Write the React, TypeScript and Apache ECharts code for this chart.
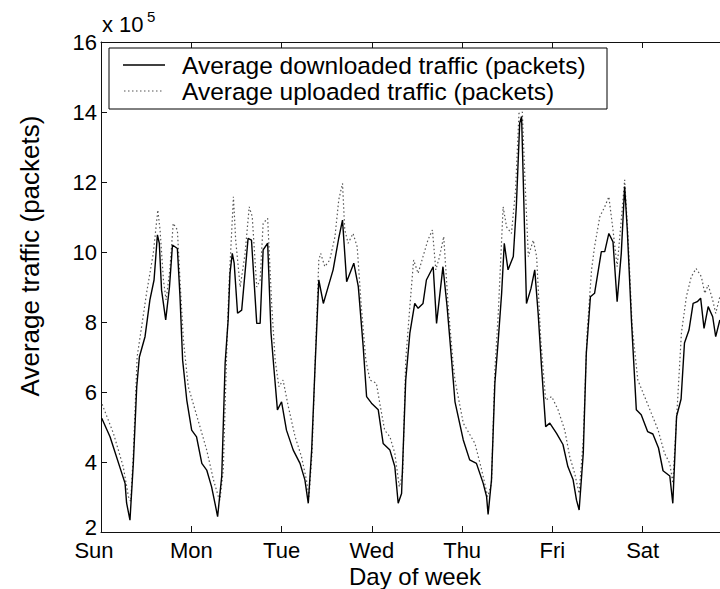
import React, { useEffect, useRef } from "react";
import * as echarts from "echarts";

// Hours since Sunday 00:00 and average traffic in units of 10^5 packets.
const DAY_LABELS = ["Sun", "Mon", "Tue", "Wed", "Thu", "Fri", "Sat"];
const Y_TICKS = [2, 4, 6, 8, 10, 12, 14, 16];

const DOWN_HOURS = [
  0.2, 2.4, 6.4, 6.8, 7.7, 8.6, 9.5, 10.2, 11.7, 13.0, 14.1, 15.0, 15.5, 16.1, 17.2, 18.2, 19.0, 20.3, 21.0, 21.7, 22.8,
  24.1, 25.4, 26.8, 28.1, 29.4, 30.3, 31.0, 32.1, 33.0, 33.8, 34.3, 34.9, 35.4, 36.3, 37.4, 39.1, 40.0, 41.4, 42.3, 43.1, 44.3, 45.2, 46.0, 46.9,
  48.0, 49.3, 51.1, 52.9, 54.2, 55.1, 56.0, 56.9, 57.9, 59.1, 60.4, 61.7, 63.2, 64.2, 65.3, 67.2, 68.4, 69.7, 70.6, 71.9,
  73.7, 75.0, 76.8, 78.1, 79.0, 79.9, 81.0, 82.1, 83.4, 84.3, 85.6, 86.5, 88.3, 89.2, 90.9, 92.0, 93.2, 94.1,
  96.3, 98.0, 99.8, 101.6, 102.5, 102.9, 103.8, 104.7, 105.6, 106.5, 107.2, 108.2, 109.6, 110.4, 111.3, 111.8, 112.2, 113.1, 114.3, 115.3, 116.2, 117.1, 118.2, 119.3,
  121.1, 122.8, 124.1, 125.5, 126.4, 127.1, 128.2, 129.0, 130.1, 131.2, 133.0, 133.9, 135.0, 136.1, 137.2, 138.3, 139.2, 139.9, 141.0, 142.3,
  143.6, 145.3, 146.7, 148.2, 149.4, 151.2, 152.0, 153.0, 154.2, 155.1, 156.3, 157.4, 158.5, 159.4, 160.3, 161.4, 162.6, 163.4, 164.5,
];
const DOWN_VALUES = [
  5.25, 4.72, 3.39, 2.83, 2.34, 3.97, 6.15, 7.0, 7.58, 8.63, 9.2, 10.49, 10.25, 8.91, 8.06, 9.0, 10.2, 10.1, 8.72, 6.91, 5.77,
  4.91, 4.72, 3.96, 3.77, 3.29, 2.82, 2.44, 3.6, 6.83, 8.06, 9.4, 9.96, 9.68, 8.25, 8.34, 10.39, 10.34, 7.96, 7.96, 10.06, 10.25, 7.68, 6.63, 5.49,
  5.72, 4.91, 4.34, 3.96, 3.49, 2.82, 4.34, 6.72, 9.2, 8.53, 9.01, 9.49, 10.4, 10.91, 9.15, 9.68, 9.01, 7.29, 5.87, 5.68,
  5.49, 4.53, 4.34, 3.87, 2.82, 3.1, 6.34, 7.68, 8.53, 8.39, 8.53, 9.2, 9.58, 7.96, 9.58, 8.44, 6.91, 5.72,
  4.63, 4.06, 3.96, 3.39, 3.01, 2.5, 3.49, 6.25, 7.49, 8.82, 10.25, 9.49, 9.87, 11.29, 13.68, 13.87, 12.25, 8.53, 8.96, 9.49, 8.25, 6.72, 5.01, 5.11,
  4.82, 4.5, 3.87, 3.49, 2.91, 2.63, 4.25, 7.1, 8.72, 8.82, 10.01, 10.01, 10.53, 10.29, 8.58, 9.96, 11.87, 10.63, 8.06, 5.49,
  5.35, 4.87, 4.8, 4.4, 3.75, 3.6, 2.82, 5.3, 5.8, 7.4, 7.77, 8.53, 8.58, 8.68, 7.82, 8.44, 8.15, 7.58, 8.06,
];

const UP_HOURS = [
  0.3, 3.3, 5.9, 7.3, 7.9, 8.6, 9.6, 10.8, 12.1, 13.9, 15.1, 15.7, 16.6, 17.3, 18.3, 19.2, 20.3, 21.0, 21.9, 23.2,
  25.0, 26.3, 28.1, 29.9, 31.2, 31.6, 32.5, 33.4, 34.0, 35.2, 35.8, 37.0, 38.3, 39.4, 40.2, 41.4, 42.3, 43.1, 44.3, 45.4, 46.3, 47.3,
  48.4, 49.8, 51.6, 53.3, 54.6, 55.3, 56.1, 57.0, 57.9, 58.4, 59.5, 60.8, 62.2, 63.2, 64.2, 64.8, 65.7, 67.0, 68.1, 69.2, 70.4, 71.5,
  73.2, 74.1, 75.4, 76.8, 78.1, 79.3, 80.2, 81.0, 82.1, 83.1, 84.3, 85.6, 86.9, 88.1, 89.0, 90.0, 91.1, 92.3, 93.6, 94.1,
  96.3, 99.4, 101.2, 102.8, 103.8, 104.7, 105.6, 106.9, 107.8, 109.1, 110.2, 111.1, 112.0, 112.7, 113.6, 114.9, 115.8, 116.9, 118.2, 119.8,
  121.5, 123.3, 124.6, 125.9, 127.1, 128.2, 129.2, 130.4, 131.2, 132.6, 133.9, 135.0, 136.1, 137.2, 138.3, 139.2, 140.1, 141.2, 142.7,
  144.5, 146.3, 148.1, 149.8, 151.2, 151.6, 152.0, 153.4, 154.3, 155.6, 156.9, 158.2, 159.6, 160.5, 161.4, 162.6, 163.4, 164.5,
];
const UP_VALUES = [
  5.65, 4.82, 3.87, 3.01, 2.87, 4.25, 7.0, 7.87, 8.82, 9.96, 11.2, 10.63, 9.2, 8.63, 9.49, 10.82, 10.63, 9.2, 7.49, 6.15,
  5.49, 5.01, 4.34, 3.49, 3.01, 2.91, 3.77, 7.1, 9.0, 11.58, 10.34, 9.0, 9.96, 11.29, 11.01, 9.0, 9.2, 10.82, 10.96, 8.44, 6.91, 6.15,
  6.34, 5.58, 4.72, 4.15, 3.49, 3.01, 4.25, 7.1, 9.77, 9.96, 9.58, 9.77, 10.44, 11.49, 11.96, 10.63, 10.25, 10.53, 10.15, 8.44, 6.91, 6.34,
  6.25, 5.68, 4.91, 4.72, 4.25, 3.29, 3.68, 6.91, 8.44, 9.77, 9.39, 9.87, 10.34, 10.63, 9.49, 9.87, 10.44, 8.44, 6.82, 6.34,
  5.11, 4.53, 3.77, 3.01, 3.39, 6.63, 8.25, 11.29, 10.72, 10.53, 11.77, 13.96, 14.0, 12.06, 9.87, 10.34, 9.87, 7.49, 5.77, 5.87,
  5.49, 4.9, 4.15, 3.68, 3.1, 4.63, 7.68, 9.49, 10.15, 11.01, 11.29, 11.58, 10.63, 9.58, 10.91, 12.06, 10.44, 7.87, 6.34,
  5.87, 5.39, 4.91, 4.25, 3.96, 3.68, 3.39, 6.0, 7.7, 8.72, 9.29, 9.53, 9.29, 8.82, 9.06, 8.63, 8.25, 8.72,
];

const FONT = "'Liberation Sans', Arial, Helvetica, sans-serif";
const AXIS_COLOR = "#111";
const DOWN_STYLE = { color: "#000", width: 1.4, type: "solid" as const };
const UP_STYLE = { color: "#555", width: 1.2, type: [1.5, 2.5] as number[] };

// The plot runs a little past the visible frame on the right, so the chart
// canvas is wider than the clipping frame around it.
const FRAME_W = 720;
const FRAME_H = 589;
const CANVAS_W = 740;

const pairs = (xs: number[], ys: number[]) => xs.map((x, i) => [x, ys[i]]);

export default function App() {
  const ref = useRef<HTMLDivElement>(null);

  useEffect(() => {
    if (!ref.current) return;
    const chart = echarts.init(ref.current, undefined, { renderer: "svg" });

    const xCommon = {
      type: "value" as const,
      min: 0,
      max: 24 * DAY_LABELS.length,
      interval: 24,
      splitLine: { show: false },
      axisLine: { show: true, lineStyle: { color: AXIS_COLOR, width: 1 } },
      axisTick: { show: true, inside: true, length: 6, lineStyle: { color: AXIS_COLOR } },
    };

    chart.setOption({
      animation: false,
      backgroundColor: "#fff",
      grid: { left: 101, top: 42, right: CANVAS_W - 733, bottom: 57, containLabel: false },
      xAxis: [
        {
          ...xCommon,
          position: "bottom",
          axisLabel: {
            show: true,
            margin: 8,
            color: "#000",
            fontFamily: FONT,
            fontSize: 22,
            lineHeight: 20,
            formatter: (v: number) => {
              const label = DAY_LABELS[Math.round(v / 24)] ?? "";
              return v === 0 ? `{first|${label}}` : label;
            },
            rich: { first: { fontFamily: FONT, fontSize: 22, lineHeight: 20, color: "#000", padding: [0, 14, 0, 0] } },
          },
        },
        { ...xCommon, position: "top", axisLabel: { show: false } },
      ],
      yAxis: {
        type: "value",
        min: Y_TICKS[0],
        max: Y_TICKS[Y_TICKS.length - 1],
        interval: 2,
        splitLine: { show: false },
        axisLine: { show: true, lineStyle: { color: AXIS_COLOR, width: 1 } },
        axisTick: { show: true, inside: true, length: 6, lineStyle: { color: AXIS_COLOR } },
        axisLabel: {
          margin: 4,
          color: "#000",
          fontFamily: FONT,
          fontSize: 22,
          lineHeight: 18,
          formatter: (v: number) => (v === Y_TICKS[0] ? `{low|${v}}` : `${v}`),
          rich: { low: { fontFamily: FONT, fontSize: 22, lineHeight: 16, color: "#000", padding: [0, 0, 10, 0] } },
        },
      },
      series: [
        {
          name: "Average downloaded traffic (packets)",
          type: "line",
          xAxisIndex: 0,
          data: pairs(DOWN_HOURS, DOWN_VALUES),
          showSymbol: false,
          lineStyle: DOWN_STYLE,
          z: 3,
        },
        {
          name: "Average uploaded traffic (packets)",
          type: "line",
          xAxisIndex: 0,
          data: pairs(UP_HOURS, UP_VALUES),
          showSymbol: false,
          lineStyle: UP_STYLE,
          z: 2,
        },
      ],
      graphic: [
        // legend box
        {
          type: "group",
          z: 100,
          children: [
            { type: "rect", shape: { x: 109, y: 48, width: 498, height: 61 }, style: { fill: "#fff", stroke: "#000", lineWidth: 1 } },
            { type: "line", shape: { x1: 123, y1: 65, x2: 165, y2: 65 }, style: { stroke: DOWN_STYLE.color, lineWidth: DOWN_STYLE.width } },
            {
              type: "line",
              shape: { x1: 124, y1: 91, x2: 164, y2: 91 },
              style: { stroke: UP_STYLE.color, lineWidth: UP_STYLE.width, lineDash: UP_STYLE.type },
            },
            {
              type: "text",
              x: 182,
              y: 65,
              style: { text: "Average downloaded traffic (packets)", font: `24.5px ${FONT}`, fill: "#000", verticalAlign: "middle" },
            },
            {
              type: "text",
              x: 182,
              y: 91,
              style: { text: "Average uploaded traffic (packets)", font: `24.5px ${FONT}`, fill: "#000", verticalAlign: "middle" },
            },
          ],
        },
        // exponent marker above the value axis
        { type: "text", x: 102, y: 35, style: { text: "x 10", font: `22px ${FONT}`, fill: "#000", verticalAlign: "bottom" } },
        { type: "text", x: 147, y: 24, style: { text: "5", font: `15px ${FONT}`, fill: "#000", verticalAlign: "bottom" } },
        // axis titles
        {
          type: "text",
          x: 30,
          y: 256,
          rotation: Math.PI / 2,
          style: { text: "Average traffic (packets)", font: `26px ${FONT}`, fill: "#000", align: "center", verticalAlign: "middle" },
        },
        {
          type: "text",
          x: 415,
          y: 576,
          style: { text: "Day of week", font: `24px ${FONT}`, lineHeight: 24, fill: "#000", align: "center", verticalAlign: "middle" },
        },
      ],
    });

    return () => chart.dispose();
  }, []);

  return (
    <div style={{ position: "fixed", left: 0, top: 0, width: FRAME_W, height: FRAME_H, overflow: "hidden", background: "#fff" }}>
      <div ref={ref} style={{ width: CANVAS_W, height: FRAME_H }} />
    </div>
  );
}
